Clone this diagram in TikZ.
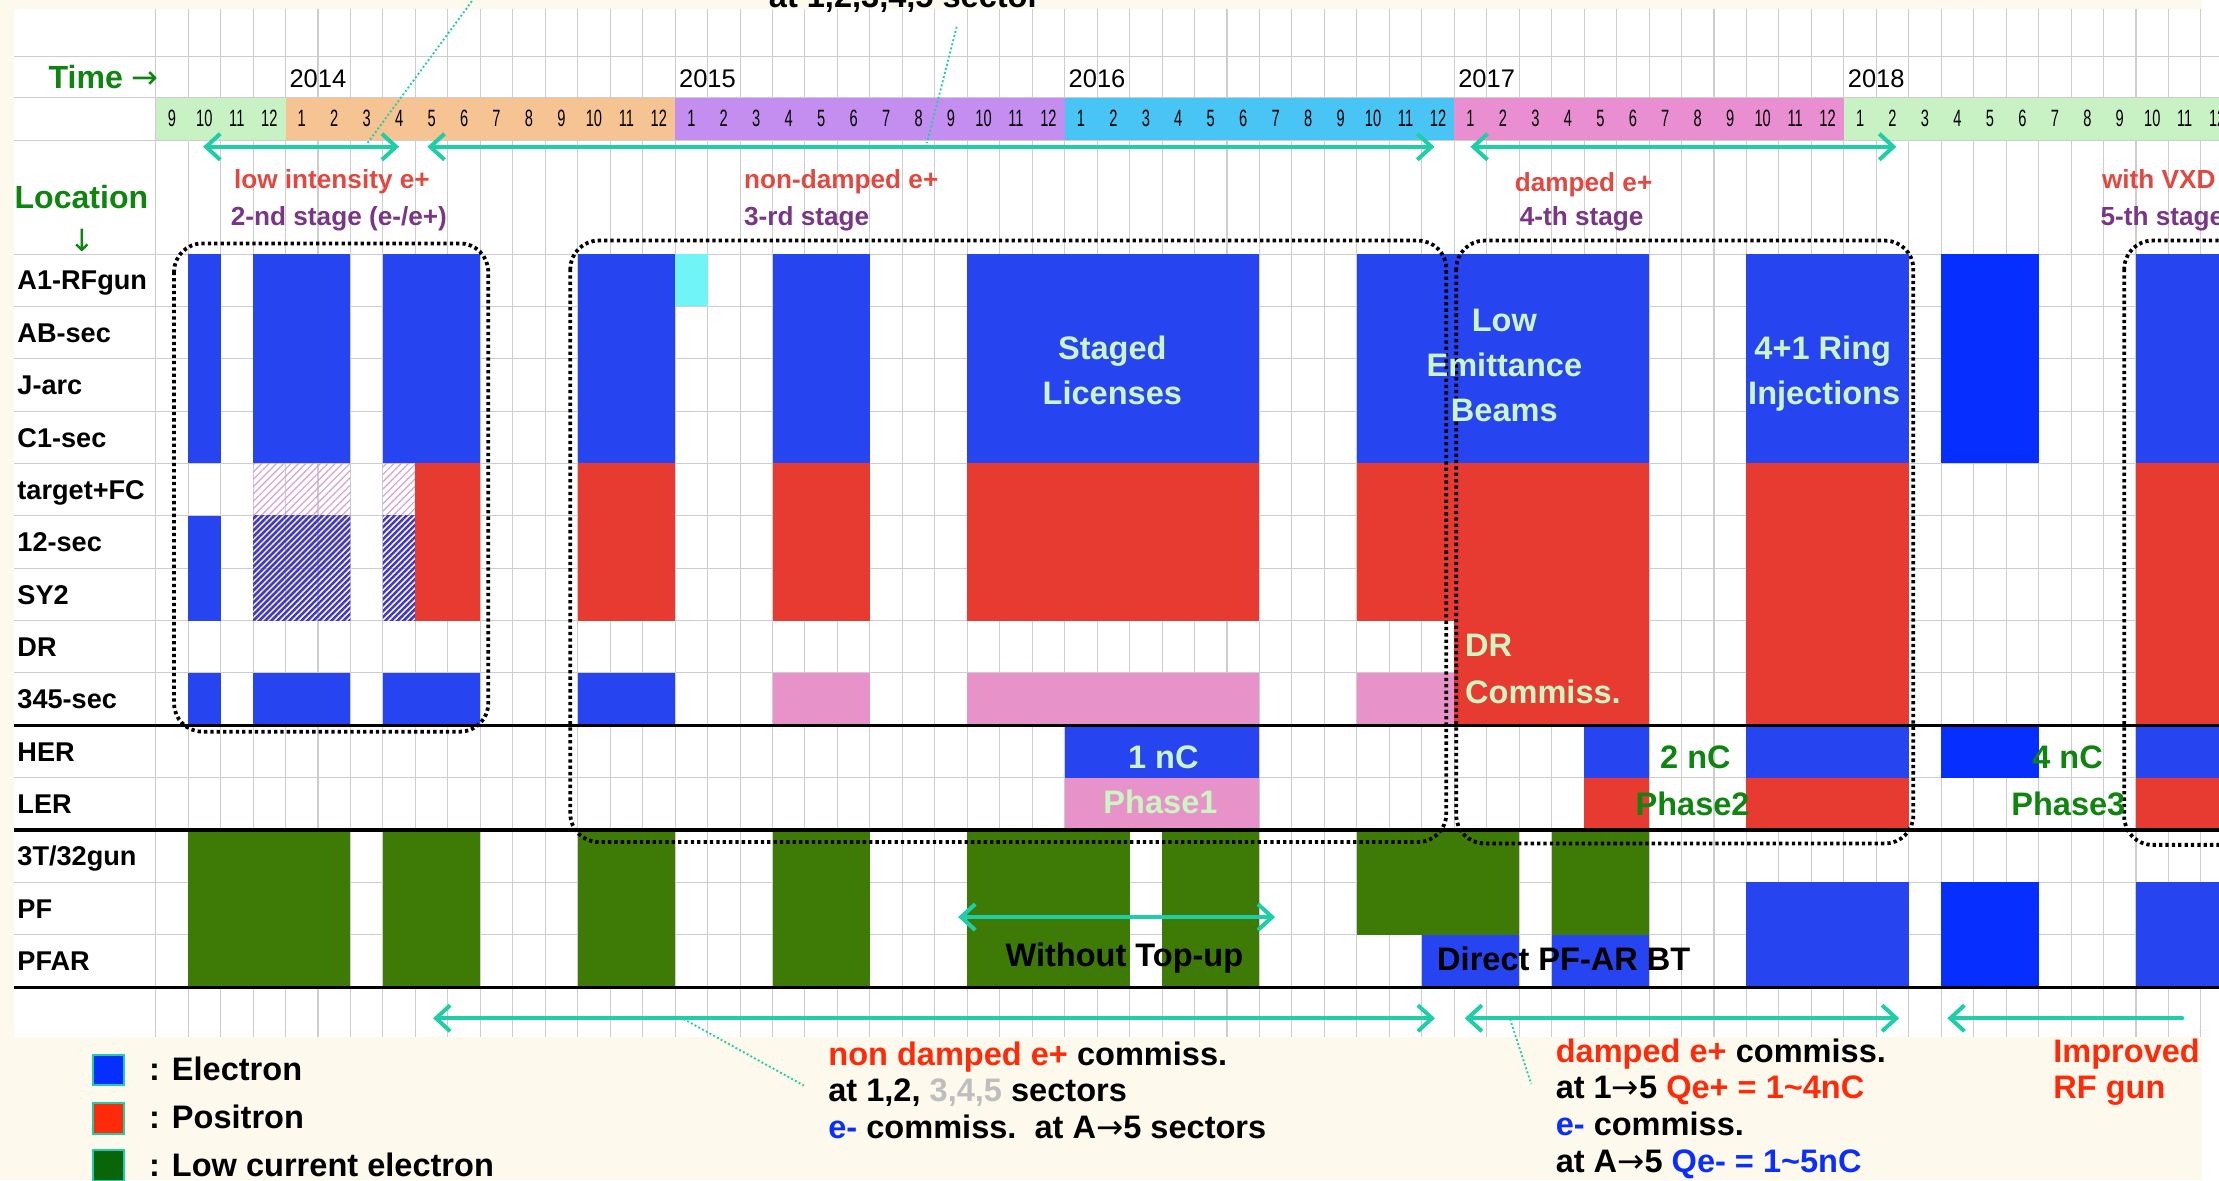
\documentclass[tikz,border=0pt]{standalone}
\usepackage{fontspec}
\setmainfont{Liberation Sans}
\newfontfamily\etroit{Liberation Sans}[FakeStretch=0.62]
\newfontfamily\signe{DejaVu Sans}
\usetikzlibrary{arrows.meta,patterns.meta}

\definecolor{creme}{RGB}{253,249,236}
\definecolor{gristrait}{RGB}{205,205,205}
\definecolor{electron}{RGB}{38,68,240}
\definecolor{electronvif}{RGB}{6,46,255}
\definecolor{positron}{RGB}{231,58,48}
\definecolor{faible}{RGB}{62,122,6}
\definecolor{rosepale}{RGB}{232,146,202}
\definecolor{cyanpale}{RGB}{112,244,246}
\definecolor{turquoise}{RGB}{30,206,166}
\definecolor{vertclair}{RGB}{204,245,196}
\definecolor{vertfonce}{RGB}{16,132,16}
\definecolor{rougetxt}{RGB}{226,72,64}
\definecolor{violettxt}{RGB}{122,54,134}
\definecolor{rougevif}{RGB}{255,42,10}
\definecolor{bleutxt}{RGB}{10,46,255}
\definecolor{gristxt}{RGB}{190,190,190}
\definecolor{hachr}{RGB}{214,160,210}
\definecolor{hachb}{RGB}{66,56,200}
\definecolor{an13}{RGB}{200,241,196}
\definecolor{an14}{RGB}{246,196,146}
\definecolor{an15}{RGB}{196,142,240}
\definecolor{an16}{RGB}{72,196,245}
\definecolor{an17}{RGB}{233,142,208}
\definecolor{an18}{RGB}{200,241,196}

% colonnes (mois) et lignes (lieux)
\newcommand{\cx}[1]{110+22.94*(#1)}
\newcommand{\ry}[1]{179.5+37*(#1)}
\newcommand{\bloc}[5]{\fill[#5] ({\cx{#1}},{\ry{#3}}) rectangle ({\cx{#2+1}},{\ry{#4+1}});}
\newcommand{\vers}{{\signe\mdseries →}}

\begin{document}
\begin{tikzpicture}[x=0.6pt,y=-0.6pt,
    Pointe/.tip={Straight Barb[length=6pt,width=11pt]},
    grille/.style={gristrait,line width=0.45pt},
    trait/.style={black,line width=1.3pt},
    cadre/.style={black,line width=1.6pt,dash pattern=on 1.4pt off 1.3pt,rounded corners=12pt},
    fleche/.style={turquoise,line width=1.7pt,line cap=round,arrows={Pointe-Pointe}},
    pointille/.style={turquoise,line width=0.8pt,dash pattern=on 0.8pt off 1pt},
    hachrose/.style={pattern={Lines[angle=45,distance=2.2pt,line width=0.5pt]},pattern color=hachr},
    hachbleu/.style={pattern={Lines[angle=45,distance=1.8pt,line width=1.1pt]},pattern color=hachb},
    lieu/.style={anchor=base west,inner sep=0,font=\bfseries\fontsize{11.5}{12}\selectfont},
    mois/.style={anchor=base,inner sep=0,font=\etroit\fontsize{10}{11}\selectfont},
    annee/.style={anchor=base west,inner sep=0,font=\fontsize{10.8}{11}\selectfont},
    titre/.style={anchor=base west,inner sep=0,text=vertfonce,font=\bfseries\fontsize{13.6}{14}\selectfont},
    etape/.style={anchor=base,inner sep=0,font=\bfseries\fontsize{11.1}{12}\selectfont},
    clair/.style={anchor=base,inner sep=0,text=vertclair,font=\bfseries\fontsize{13.8}{14}\selectfont},
    fonce/.style={anchor=base,inner sep=0,text=vertfonce,font=\bfseries\fontsize{13.8}{14}\selectfont},
    gros/.style={anchor=base west,inner sep=0,font=\bfseries\fontsize{13.8}{14}\selectfont},
    carre/.style={draw=turquoise,line width=0.9pt,minimum size=13pt,inner sep=0}]
    \useasboundingbox (0,0) rectangle (1568,834);
    \clip (0,0) rectangle (1568,834);

    % Fond
    \fill[creme] (0,0) rectangle (1556,834);
    \fill[white] (1556,0) rectangle (1568,834);
    \fill[white] (10,6) rectangle (1568,733);

    % Grille
    \foreach \k in {0,...,64} \draw[grille] ({\cx{\k}},6) -- ({\cx{\k}},733);
    \foreach \yy in {40,69,99} \draw[grille] (10,\yy) -- (1568,\yy);
    \foreach \r in {0,...,14} \draw[grille] (10,{\ry{\r}}) -- (1568,{\ry{\r}});

    % Bande des mois
    \fill[an13] ({\cx{0}},69) rectangle ({\cx{4}},99);
    \fill[an14] ({\cx{4}},69) rectangle ({\cx{16}},99);
    \fill[an15] ({\cx{16}},69) rectangle ({\cx{28}},99);
    \fill[an16] ({\cx{28}},69) rectangle ({\cx{40}},99);
    \fill[an17] ({\cx{40}},69) rectangle ({\cx{52}},99);
    \fill[an18] ({\cx{52}},69) rectangle ({\cx{64}},99);
    \foreach \i in {0,...,63} {
        \pgfmathtruncatemacro\m{mod(\i+8,12)+1}
        \node[mois] (m\i) at ({\cx{\i+0.5}},89.5) {\m};
    }
    \foreach \an [count=\k from 0] in {2014,...,2018}
        \node[annee] (a\an) at ({\cx{4+12*\k}+2.5},61.5) {\an};

    % Lieux
    \foreach \nom [count=\r from 0] in {A1-RFgun,AB-sec,J-arc,C1-sec,target+FC,12-sec,SY2,DR,345-sec,HER,LER,3T/32gun,PF,PFAR}
        \node[lieu] (l\r) at (12,{204.9+37*\r}) {\nom};

    % Blocs : 2e etape
    \bloc{1}{1}{0}{3}{electron}
    \bloc{1}{1}{5}{6}{electron}
    \bloc{1}{1}{8}{8}{electron}
    \bloc{3}{5}{0}{3}{electron}
    \bloc{3}{5}{4}{4}{hachrose}
    \bloc{3}{5}{5}{6}{hachbleu}
    \bloc{3}{5}{8}{8}{electron}
    \bloc{7}{9}{0}{3}{electron}
    \bloc{7}{7}{4}{4}{hachrose}
    \bloc{7}{7}{5}{6}{hachbleu}
    \bloc{8}{9}{4}{6}{positron}
    \bloc{7}{9}{8}{8}{electron}

    % Blocs : 3e etape
    \foreach \a/\b in {13/15,19/21,25/33,37/39} {\bloc{\a}{\b}{0}{3}{electron} \bloc{\a}{\b}{4}{6}{positron}}
    \bloc{13}{15}{8}{8}{electron}
    \foreach \a/\b in {19/21,25/33,37/39} {\bloc{\a}{\b}{8}{8}{rosepale}}
    \bloc{16}{16}{0}{0}{cyanpale}
    \bloc{28}{33}{9}{9}{electron}
    \bloc{28}{33}{10}{10}{rosepale}

    % Blocs : 4e et 5e etapes
    \foreach \a/\b in {40/45,49/53,61/63} {\bloc{\a}{\b}{0}{3}{electron} \bloc{\a}{\b}{4}{8}{positron}}
    \foreach \a/\b in {44/45,49/53,61/63} {\bloc{\a}{\b}{9}{9}{electron} \bloc{\a}{\b}{10}{10}{positron}}
    \bloc{55}{57}{0}{3}{electronvif}
    \bloc{55}{57}{9}{9}{electronvif}

    % Blocs : PF / PF-AR
    \foreach \a/\b in {1/5,7/9,13/15,19/21,25/29,31/33} {\bloc{\a}{\b}{11}{13}{faible}}
    \foreach \a/\b in {37/41,43/45} {\bloc{\a}{\b}{11}{12}{faible}}
    \foreach \a/\b in {39/41,43/45} {\bloc{\a}{\b}{13}{13}{electron}}
    \foreach \a/\b in {49/53,61/63} {\bloc{\a}{\b}{12}{13}{electron}}
    \bloc{55}{57}{12}{13}{electronvif}

    % Separations
    \foreach \yy in {512.5,586.5,697.5} \draw[trait] (10,\yy) -- (1568,\yy);

    % Cadres pointilles
    \draw[cadre] (123,172) rectangle (345,517);
    \draw[cadre] (403,170) rectangle (1022,595);
    \draw[cadre] (1029,170) rectangle (1352,596);
    \draw[cadre] (1501,170) rectangle (1650,597);

    % Titres
    \node[titre] (temps) at (34,62.4) {Time \vers};
    \node[titre] (lieux) at (10,147) {Location};
    \node[text=vertfonce,inner sep=0,font=\signe\fontsize{13}{14}\selectfont] (bas) at (58,169.5) {↓};

    % Etapes
    \node[etape,text=rougetxt] (s1a) at (234.5,133) {low intensity e+};
    \node[etape,text=violettxt] (s1b) at (239.5,159.5) {2-nd stage (e-/e+)};
    \node[etape,text=rougetxt,anchor=base west] (s2a) at (525.5,133) {non-damped e+};
    \node[etape,text=violettxt,anchor=base west] (s2b) at (525.5,159.5) {3-rd stage};
    \node[etape,text=rougetxt] (s3a) at (1119,135) {damped e+};
    \node[etape,text=violettxt] (s3b) at (1117.6,159.5) {4-th stage};
    \node[etape,text=rougetxt,anchor=base west] (s4a) at (1485,133) {with VXD};
    \node[etape,text=violettxt,anchor=base west] (s4b) at (1484,159.5) {5-th stage};
    \node[gros] (haut) at (543,5) {at 1,2,3,4,5 sector};

    % Textes sur les blocs
    \node[clair] (t1) at (786,254) {Staged};
    \node[clair] (t2) at (786,286) {Licenses};
    \node[clair] (t3) at (1063,234) {Low};
    \node[clair] (t4) at (1063,266) {Emittance};
    \node[clair] (t5) at (1063,298) {Beams};
    \node[clair] (t6) at (1288,254) {4+1 Ring};
    \node[clair] (t7) at (1289,286) {Injections};
    \node[clair,anchor=base west] (t8) at (1035,464) {DR};
    \node[clair,anchor=base west] (t9) at (1035,497) {Commiss.};
    \node[clair] (q1) at (822,543) {1 nC};
    \node[clair] (f1) at (820,575) {Phase1};
    \node[fonce] (q2) at (1198,543) {2 nC};
    \node[fonce] (f2) at (1196,576) {Phase2};
    \node[fonce] (q3) at (1461,543) {4 nC};
    \node[fonce] (f3) at (1461.5,576) {Phase3};
    \node[gros,anchor=base] (wt) at (794.5,683) {Without Top-up};
    \node[gros,anchor=base] (bt) at (1105,686) {Direct PF-AR BT};

    % Fleches
    \coordinate (h1) at (143.5,103.7); \coordinate (h2) at (282,103.7);
    \coordinate (h3) at (302,103.7);   \coordinate (h4) at (1013.6,103.7);
    \coordinate (h5) at (1039,103.7);  \coordinate (h6) at (1340,103.7);
    \coordinate (b1) at (306,719.5);   \coordinate (b2) at (1014,719.5);
    \coordinate (b3) at (1035,719.5);  \coordinate (b4) at (1342,719.5);
    \coordinate (b5) at (1376,719.5);  \coordinate (b6) at (1542,719.5);
    \coordinate (w1) at (677,648);     \coordinate (w2) at (901,648);
    \draw[fleche] (h1) -- (h2);
    \draw[fleche] (h3) -- (h4);
    \draw[fleche] (h5) -- (h6);
    \draw[fleche] (b1) -- (b2);
    \draw[fleche] (b3) -- (b4);
    \draw[fleche,arrows={Pointe-}] (b5) -- (b6);
    \draw[fleche] (w1) -- (w2);

    % Renvois
    \coordinate (r1) at (337,-4);   \coordinate (r2) at (259,102);
    \coordinate (r3) at (676,19);   \coordinate (r4) at (655,101);
    \coordinate (r5) at (483,720);  \coordinate (r6) at (568,767);
    \coordinate (r7) at (1067,720); \coordinate (r8) at (1082,766);
    \draw[pointille] (r1) -- (r2);
    \draw[pointille] (r3) -- (r4);
    \draw[pointille] (r5) -- (r6);
    \draw[pointille] (r7) -- (r8);

    % Commentaires du bas
    \node[gros] (n1) at (585,752.6) {\textcolor{rougevif}{non damped e+} commiss.};
    \node[gros] (n2) at (585,778.6) {at 1,2, \textcolor{gristxt}{3,4,5} sectors};
    \node[gros] (n3) at (585,804.6) {\textcolor{bleutxt}{e-} commiss.\ \ at A\vers5 sectors};
    \node[gros] (d1) at (1099,750.5) {\textcolor{rougevif}{damped e+} commiss.};
    \node[gros] (d2) at (1099,776.5) {at 1\vers5 \textcolor{rougevif}{Qe+ = 1\textasciitilde4nC}};
    \node[gros] (d3) at (1099,802.5) {\textcolor{bleutxt}{e-} commiss.};
    \node[gros] (d4) at (1099,828.5) {at A\vers5 \textcolor{bleutxt}{Qe- = 1\textasciitilde5nC}};
    \node[gros,text=rougevif] (g1) at (1450.6,751) {Improved};
    \node[gros,text=rougevif] (g2) at (1450.6,776.5) {RF gun};

    % Legende
    \node[carre,fill=electronvif] (ce) at (76.5,756) {};
    \node[carre,fill=rougevif] (cp) at (76.5,790.5) {};
    \node[carre,fill={rgb,255:red,10;green,100;blue,10}] (cf) at (76.5,823.5) {};
    \node[gros] (le) at (105,763.3) {: Electron};
    \node[gros] (lp) at (105,797.4) {: Positron};
    \node[gros] (lf) at (105,831.6) {: Low current electron};
\end{tikzpicture}
\end{document}
